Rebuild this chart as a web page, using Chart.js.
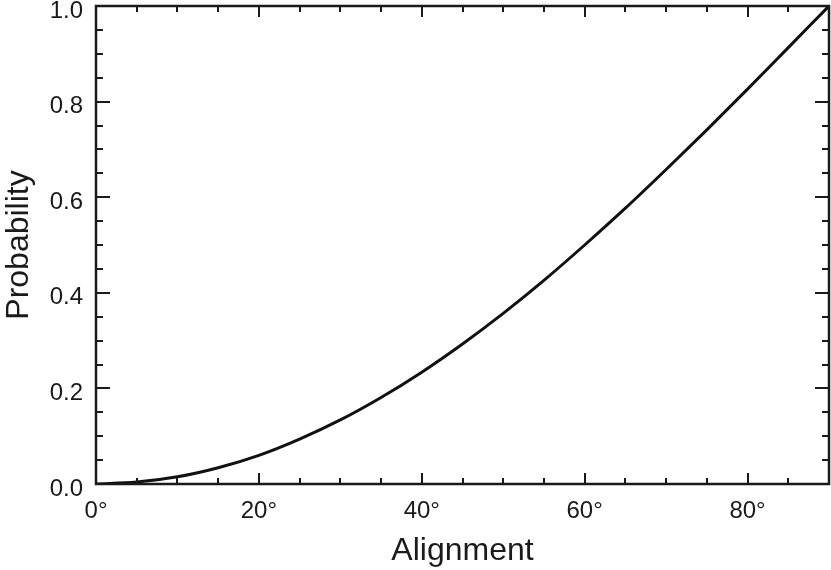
<!DOCTYPE html>
<html>
<head>
<meta charset="utf-8">
<script src="https://cdn.jsdelivr.net/npm/chart.js"></script>
<style>
  html, body { margin: 0; padding: 0; background: #fff; }
  #wrap { width: 831px; height: 570px; }
</style>
</head>
<body>
<div id="wrap"><canvas id="chart" width="831" height="570"></canvas></div>
<script>
// Valeurs
const angles = [0, 5, 10, 15, 20, 25, 30, 35, 40, 45, 50, 55, 60, 65, 70, 75, 80, 85, 90];
const probability = [0, 0.004, 0.015, 0.034, 0.060, 0.094, 0.134, 0.181, 0.234, 0.293,
                     0.357, 0.426, 0.500, 0.577, 0.658, 0.741, 0.826, 0.913, 1.0];
const xTickLabels = [0, 20, 40, 60, 80];
const yTickLabels = [0.0, 0.2, 0.4, 0.6, 0.8, 1.0];

const FONT = 'Liberation Sans, Arial, Helvetica, sans-serif';

// Cadre + graduations vers l'intérieur sur les quatre côtés
const frameTicks = {
    id: 'frameTicks',
    afterDatasetsDraw(chart) {
        const ctx = chart.ctx;
        const a = chart.chartArea;
        const xs = chart.scales.x, ys = chart.scales.y;
        ctx.save();
        ctx.strokeStyle = '#1a1a1a';
        ctx.lineWidth = 2.5;
        ctx.strokeRect(a.left, a.top, a.right - a.left, a.bottom - a.top);
        ctx.lineWidth = 2;
        ctx.beginPath();
        for (let v = 0; v <= 90; v += 5) {
            const px = Math.round(xs.getPixelForValue(v));
            const len = v % 20 === 0 ? 11 : 6;
            ctx.moveTo(px, a.bottom); ctx.lineTo(px, a.bottom - len);
            ctx.moveTo(px, a.top); ctx.lineTo(px, a.top + len);
        }
        for (let i = 0; i <= 20; i++) {
            const v = i * 0.05;
            const py = Math.round(ys.getPixelForValue(v));
            const len = i % 4 === 0 ? 14 : 7;
            ctx.moveTo(a.left, py); ctx.lineTo(a.left + len, py);
            ctx.moveTo(a.right, py); ctx.lineTo(a.right - len, py);
        }
        ctx.stroke();
        ctx.restore();
    }
};

new Chart(document.getElementById('chart').getContext('2d'), {
    type: 'line',
    data: {
        datasets: [{
            data: angles.map((a, i) => ({ x: a, y: probability[i] })),
            borderColor: '#111',
            borderWidth: 3,
            pointRadius: 0,
            fill: false,
            cubicInterpolationMode: 'monotone'
        }]
    },
    options: {
        responsive: false,
        animation: false,
        layout: { padding: { top: 6, right: 2, left: 0, bottom: 0 } },
        plugins: { legend: { display: false }, tooltip: { enabled: false } },
        scales: {
            x: {
                type: 'linear',
                min: 0,
                max: 90,
                grid: { display: false, drawTicks: false },
                border: { display: false },
                afterBuildTicks(scale) {
                    scale.ticks = xTickLabels.map(v => ({ value: v }));
                },
                ticks: {
                    color: '#1a1a1a',
                    font: { family: FONT, size: 24 },
                    padding: 13,
                    maxRotation: 0,
                    callback: v => v + '°'
                },
                title: {
                    display: true,
                    text: 'Alignment',
                    color: '#1a1a1a',
                    font: { family: FONT, size: 32 },
                    padding: { top: 16, bottom: 0 }
                },
                afterFit(scale) {
                    scale.height = 86;
                    scale.paddingLeft = 0;
                    scale.paddingRight = 0;
                }
            },
            y: {
                min: 0,
                max: 1,
                grid: { display: false, drawTicks: false },
                border: { display: false },
                afterBuildTicks(scale) {
                    scale.ticks = yTickLabels.map(v => ({ value: v }));
                },
                ticks: {
                    color: '#1a1a1a',
                    font: { family: FONT, size: 24 },
                    padding: 13,
                    labelOffset: 5,
                    callback: v => v.toFixed(1)
                },
                title: {
                    display: true,
                    text: 'Probability',
                    color: '#1a1a1a',
                    font: { family: FONT, size: 32 },
                    padding: { top: 0, bottom: 6 }
                },
                afterFit(scale) {
                    scale.width = 96;
                    scale.paddingTop = 0;
                    scale.paddingBottom = 0;
                }
            }
        }
    },
    plugins: [frameTicks]
});
</script>
</body>
</html>
